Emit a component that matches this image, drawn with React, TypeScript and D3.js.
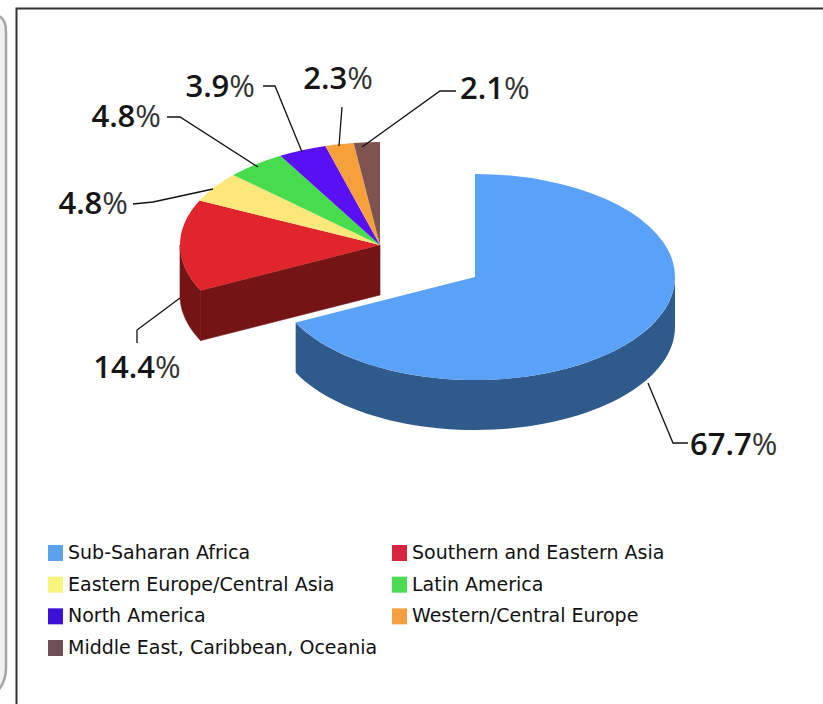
import React from "react";
import * as d3 from "d3";

const regions = ["Sub-Saharan Africa", "Southern and Eastern Asia", "Eastern Europe/Central Asia", "Latin America", "North America", "Western/Central Europe", "Middle East, Caribbean, Oceania"];
const shares = [67.7, 14.4, 4.8, 4.8, 3.9, 2.3, 2.1];
const shareLabels = ["67.7", "14.4", "4.8", "4.8", "3.9", "2.3", "2.1"];
const topColors = ["#5aa2f8", "#e0262c", "#fbe77a", "#46dc4c", "#5a10f5", "#f6a03c", "#7f5450"];
const sideColors = ["#2f5a8c", "#741414"];
const legendColors = ["#5aa2ea", "#d8243c", "#f6f47c", "#4cdc54", "#3c10d8", "#f4a040", "#705058"];

const RX = 200, RY = 103, DEPTH = 50;
const pieCentre = [475, 277];
const explodedCentre = [380, 245];

const leaders: [number, number][][] = [
  [[648, 383], [673, 443], [688, 443]],
  [[180, 298], [137, 330], [137, 343]],
  [[213, 189], [153, 202], [133, 204]],
  [[258, 167], [180, 117], [167, 117]],
  [[302, 152], [275, 86], [263, 86]],
  [[339, 146], [342, 107]],
  [[362, 147], [440, 91], [456, 91]],
];
const labelPos: [number, number, string][] = [
  [690, 455, "start"], [137, 378, "middle"], [128, 214, "end"], [161, 127, "end"],
  [255, 97, "end"], [338, 89, "middle"], [460, 99, "start"],
];

const legendItems = regions.map((r, i) => ({ r, c: legendColors[i], col: i % 2, row: Math.floor(i / 2) }));
const legendX = d3.scaleOrdinal<number, number>().domain([0, 1]).range([48, 392]);
const legendY = d3.scaleLinear().domain([0, 3]).range([553, 648]);

const slices = d3.pie<number>().sort(null).value((d) => d)(shares);
const arcGen = d3.arc<d3.PieArcDatum<number>>().innerRadius(0).outerRadius(RX);
const px = (a: number) => RX * Math.sin(a);
const py = (a: number) => -RY * Math.cos(a);

// outer wall of a slice, restricted to its front half
function wall(start: number, end: number) {
  const a0 = Math.max(start, Math.PI / 2);
  const a1 = Math.min(end, (3 * Math.PI) / 2);
  if (a1 <= a0) return null;
  const angles = d3.range(0, 61).map((i) => a0 + ((a1 - a0) * i) / 60);
  return d3.area<number>().x(px).y0(py).y1((a) => py(a) + DEPTH)(angles);
}

const labelFont = "'Open Sans', 'Noto Sans', sans-serif";
const legendFont = "'DejaVu Sans', sans-serif";

export default function App() {
  const line = d3.line();
  const red = slices[1];
  return (
    <svg width={823} height={704} style={{ position: "fixed", left: 0, top: 0, background: "#fff" }}>
      <path d="M-10,16 H-2 Q6,18 6,32 V668 Q6,682 -3,692" fill="#f3f1f0" stroke="#a5a5a5" strokeWidth={2.5} />
      <path d="M16.5,704 V8.5 H823" fill="none" stroke="#333" strokeWidth={2} />

      {/* blue slice */}
      <g transform={`translate(${pieCentre[0]},${pieCentre[1]})`}>
        <path d={wall(slices[0].startAngle, slices[0].endAngle) ?? ""} fill={sideColors[0]} />
        <path d={arcGen(slices[0]) ?? ""} transform={`scale(1,${RY / RX})`} fill={topColors[0]} />
      </g>

      {/* exploded slices */}
      <g transform={`translate(${explodedCentre[0]},${explodedCentre[1]})`}>
        <path
          d={`M0,0 L${px(red.startAngle)},${py(red.startAngle)} v${DEPTH} L0,${DEPTH} Z`}
          fill={sideColors[1]} stroke={sideColors[1]} strokeWidth={0.6}
        />
        <path d={wall(red.startAngle, red.endAngle) ?? ""} fill={sideColors[1]} stroke={sideColors[1]} strokeWidth={0.6} />
        {slices.slice(1).map((s, i) => (
          <path key={i} d={arcGen(s) ?? ""} transform={`scale(1,${RY / RX})`} fill={topColors[i + 1]} />
        ))}
      </g>

      {leaders.map((l, i) => (
        <path key={i} d={line(l) ?? ""} fill="none" stroke="#111" strokeWidth={1.3} />
      ))}
      {shareLabels.map((t, i) => (
        <text key={i} x={labelPos[i][0]} y={labelPos[i][1]} textAnchor={labelPos[i][2] as any}
          fontFamily={labelFont} fontSize={31} fontWeight={600} fill="#151515">
          {t}<tspan fontWeight={400} fill="#333">%</tspan>
        </text>
      ))}

      {legendItems.map((d) => (
        <g key={d.r}>
          <rect x={legendX(d.col)} y={legendY(d.row) - 8} width={15} height={16} fill={d.c} />
          <text x={legendX(d.col) + 20} y={legendY(d.row) + 6} fontFamily={legendFont} fontSize={19} fill="#111">{d.r}</text>
        </g>
      ))}
    </svg>
  );
}
